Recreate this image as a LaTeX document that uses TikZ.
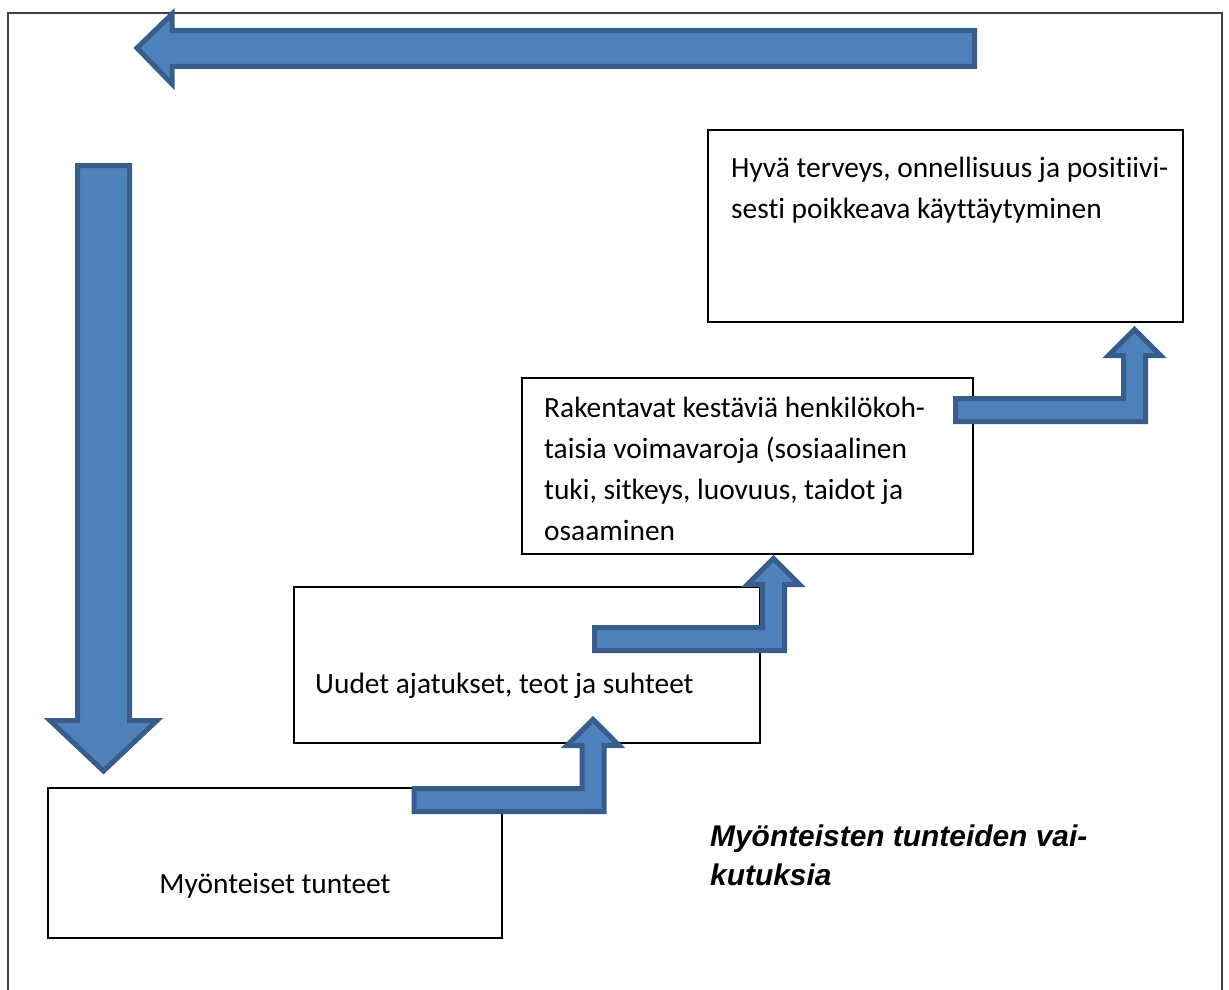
\documentclass[tikz,border=0pt]{standalone}
\usepackage{fontspec}
\setmainfont{Carlito}[Ligatures=NoCommon]
\newfontfamily\arialfont{Liberation Sans}

\definecolor{arrowfill}{HTML}{4F81BD}
\definecolor{arrowline}{HTML}{385D8A}

\tikzset{
  box/.style={draw, line width=2pt, rectangle, inner sep=0pt},
  blockarrow/.style={fill=arrowfill, draw=arrowline, line width=5pt, line join=miter},
  bodytext/.style={font=\fontsize{29.4}{41}\selectfont, inner sep=0pt, align=left},
  titletext/.style={font=\arialfont\bfseries\itshape\fontsize{29.9}{39}\selectfont, inner sep=0pt, align=left}
}

\begin{document}
\begin{tikzpicture}[x=1pt,y=-1pt]

            \useasboundingbox (0,0) rectangle (1229,990);

            % frame, open at the bottom
            \draw[line width=1.5pt, black!75] (8,990) -- (8,13) -- (1222,13) -- (1222,990);

            % boxes
            \node[box, minimum width=454, minimum height=150] (tunteet) at (275,863) {};
            \node[box, minimum width=466, minimum height=156] (uudet) at (527,665) {};
            \node[box, minimum width=451, minimum height=176] (voimavarat) at (747.5,466) {};
            \node[box, minimum width=475, minimum height=192] (terveys) at (945.5,226) {};

            % texts (base = last line)
            \node[bodytext, anchor=base] (tunteetteksti) at (275,893) {Myönteiset tunteet};
            \node[bodytext, anchor=base west] (uudetteksti) at (315,693) {Uudet ajatukset, teot ja suhteet};
            \node[bodytext, anchor=base west] (voimavarateksti) at (544,540.3)
              {Rakentavat kestäviä henkilökoh-\\taisia voimavaroja (sosiaalinen\\tuki, sitkeys, luovuus, taidot ja\\osaaminen};
            \node[bodytext, anchor=base west] (terveysteksti) at (731,218)
              {Hyvä terveys, onnellisuus ja positiivi-\\sesti poikkeava käyttäytyminen};

            \node[titletext, anchor=base west] (otsikko) at (710,885)
              {Myönteisten tunteiden vai-\\kutuksia};

            % big arrows
            \draw[blockarrow] (974.5,30.5) -- (172,30.5) -- (172,14) -- (137,48) -- (172,84)
              -- (172,66.5) -- (974.5,66.5) -- cycle;
            \draw[blockarrow] (77.5,165.5) -- (129.5,165.5) -- (129.5,720.5) -- (157,720.5)
              -- (103.5,771) -- (50,720.5) -- (77.5,720.5) -- cycle;

            % bent arrows between the boxes
            \foreach \p in {(604,811.5),(784.5,650.5),(1145.5,421.5)}{
              \draw[blockarrow, shift={\p}] (0,0) -- (-190,0) -- (-190,-23) -- (-22,-23) -- (-22,-66)
                -- (-37,-66) -- (-11,-92) -- (15,-66) -- (0,-66) -- cycle;
            }

        \end{tikzpicture}
\end{document}
